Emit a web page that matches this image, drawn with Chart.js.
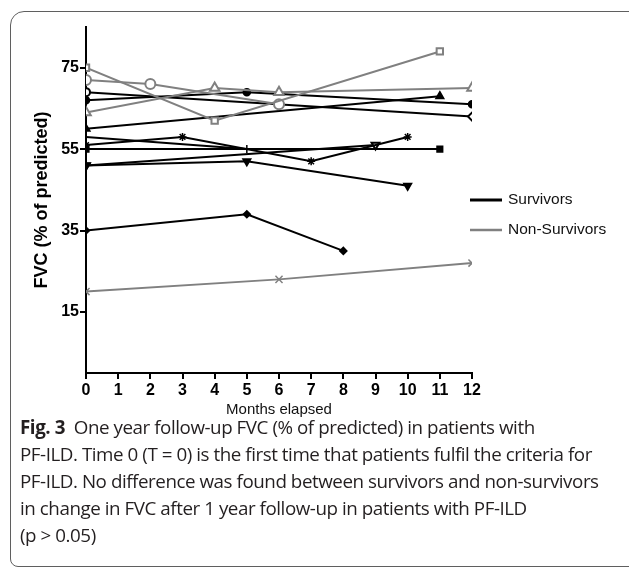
<!DOCTYPE html>
<html lang="en">
<head>
    <meta charset="UTF-8"/>
    <title>FVC follow-up</title>
    <script src="https://cdn.jsdelivr.net/npm/chart.js@4.4.1/dist/chart.umd.min.js"></script>
    <style>
        body { margin: 0; background: #fff; }
        .frame {
            position: absolute; left: 10px; top: 11px; width: 640px; height: 554px;
            border: 1.5px solid #5f5f5f; border-radius: 14px 14px 0 8px;
        }
        .wrap { position: absolute; left: 0; top: 0; width: 629px; height: 420px; }
        .caption {
            position: absolute; left: 20px; top: 414px; width: 605px;
            font-family: "Open Sans", sans-serif; font-size: 18.8px; line-height: 27px;
            color: #231f20; letter-spacing: -0.45px; white-space: nowrap;
        }
        .caption b { font-weight: 700; }
    </style>
</head>
<body>
<div class="frame"></div>
<div class="wrap">
    <canvas id="chart" width="629" height="420"></canvas>
</div>
<div class="caption">
    <b>Fig. 3</b>&nbsp; One year follow-up FVC (% of predicted) in patients with<br>
    PF-ILD. Time 0 (T = 0) is the first time that patients fulfil the criteria for<br>
    PF-ILD. No difference was found between survivors and non-survivors<br>
    in change in FVC after 1 year follow-up in patients with PF-ILD<br>
    (p &gt; 0.05)
</div>

<script>
    // months and FVC (% of predicted) for each patient
    const yTicks = [15, 35, 55, 75];

    // non-survivors (grey)
    const ns1Months = [0, 4, 11];
    const ns1Fvc = [75, 62, 79];
    const ns2Months = [0, 2, 6];
    const ns2Fvc = [72, 71, 66];
    const ns3Months = [0, 4, 6, 12];
    const ns3Fvc = [64, 70, 69, 70];
    const ns4Months = [0, 6, 12];
    const ns4Fvc = [20, 23, 27];

    // survivors (black)
    const s1Months = [0, 12];
    const s1Fvc = [69, 63];
    const s2Months = [0, 5, 12];
    const s2Fvc = [67, 69, 66];
    const s3Months = [0, 11];
    const s3Fvc = [60, 68];
    const s4Months = [0, 3, 7, 10];
    const s4Fvc = [56, 58, 52, 58];
    const s5Months = [0, 5];
    const s5Fvc = [58, 55];
    const s6Months = [0, 11];
    const s6Fvc = [55, 55];
    const s7Months = [0, 5, 10];
    const s7Fvc = [51, 52, 46];
    const s8Months = [0, 9];
    const s8Fvc = [51, 56];
    const s9Months = [0, 5, 8];
    const s9Fvc = [35, 39, 30];

    const BLACK = '#000000';
    const GREY = '#808080';
    const FONT = '"Liberation Sans", Arial, sans-serif';

    function pts(months, fvc) {
        return months.map((m, i) => ({x: m, y: fvc[i]}));
    }

    function series(months, fvc, color, style, open, radius, rotation) {
        return {
            data: pts(months, fvc),
            borderColor: color,
            borderWidth: 2,
            pointStyle: style,
            pointRadius: radius || 4,
            pointRotation: rotation || 0,
            pointBorderWidth: open ? 2 : 1.5,
            pointBorderColor: color,
            pointBackgroundColor: open ? '#ffffff' : color,
            tension: 0
        };
    }

    const legendPlugin = {
        id: 'sideLegend',
        afterDraw(chart) {
            const ctx = chart.ctx;
            const items = [
                {text: 'Survivors', color: BLACK, y: 200, w: 3},
                {text: 'Non-Survivors', color: GREY, y: 230, w: 2.5}
            ];
            ctx.save();
            ctx.font = '15.5px ' + FONT;
            ctx.textBaseline = 'middle';
            items.forEach(it => {
                ctx.strokeStyle = it.color;
                ctx.lineWidth = it.w;
                ctx.beginPath();
                ctx.moveTo(470, it.y);
                ctx.lineTo(502, it.y);
                ctx.stroke();
                ctx.fillStyle = '#111';
                ctx.fillText(it.text, 508, it.y);
            });
            ctx.restore();
        }
    };

    const ctx = document.getElementById('chart').getContext('2d');
    new Chart(ctx, {
        type: 'line',
        data: {
            datasets: [
                series(ns1Months, ns1Fvc, GREY, 'rect', true, 4.5),
                series(ns2Months, ns2Fvc, GREY, 'circle', true, 5),
                series(ns3Months, ns3Fvc, GREY, 'triangle', true, 5.5),
                series(ns4Months, ns4Fvc, GREY, 'crossRot', false, 5),
                series(s1Months, s1Fvc, BLACK, ['circle', 'rectRot'], true, 4),
                series(s2Months, s2Fvc, BLACK, 'circle', false, 3.5),
                series(s3Months, s3Fvc, BLACK, 'triangle', false, 4.5),
                series(s4Months, s4Fvc, BLACK, 'star', false, 4),
                series(s5Months, s5Fvc, BLACK, 'line', false, 4, 90),
                series(s6Months, s6Fvc, BLACK, 'rect', false, 4),
                series(s7Months, s7Fvc, BLACK, 'triangle', false, 4.5, 180),
                series(s8Months, s8Fvc, BLACK, 'triangle', true, 4.5, 180),
                series(s9Months, s9Fvc, BLACK, 'rectRot', false, 3.5)
            ]
        },
        options: {
            responsive: false,
            animation: false,
            layout: {
                padding: {left: 31, top: 27, right: 157, bottom: 0}
            },
            scales: {
                x: {
                    type: 'linear',
                    min: 0,
                    max: 12,
                    ticks: {
                        stepSize: 1,
                        color: '#000',
                        padding: 2,
                        font: {family: FONT, size: 16, weight: 'bold'}
                    },
                    grid: {drawOnChartArea: false, drawTicks: true, tickLength: 6, color: '#000', lineWidth: 2},
                    border: {color: '#000', width: 2},
                    title: {
                        display: true,
                        text: 'Months elapsed',
                        color: '#111',
                        padding: {top: 0, bottom: 1},
                        font: {family: FONT, size: 15}
                    },
                    afterFit(scale) { scale.height = 47; }
                },
                y: {
                    min: 0,
                    max: 85,
                    afterBuildTicks(scale) { scale.ticks = yTicks.map(v => ({value: v})); },
                    ticks: {
                        color: '#000',
                        padding: 1,
                        font: {family: FONT, size: 16, weight: 'bold'}
                    },
                    grid: {drawOnChartArea: false, drawTicks: true, tickLength: 6, color: '#000', lineWidth: 2},
                    border: {color: '#000', width: 2},
                    title: {
                        display: true,
                        text: 'FVC (% of predicted)',
                        color: '#000',
                        padding: {top: 0, bottom: 0},
                        font: {family: FONT, size: 18, weight: 'bold'}
                    },
                    afterFit(scale) { scale.width = 55; }
                }
            },
            plugins: {
                legend: {display: false},
                tooltip: {enabled: false}
            }
        },
        plugins: [legendPlugin]
    });
</script>
</body>
</html>
